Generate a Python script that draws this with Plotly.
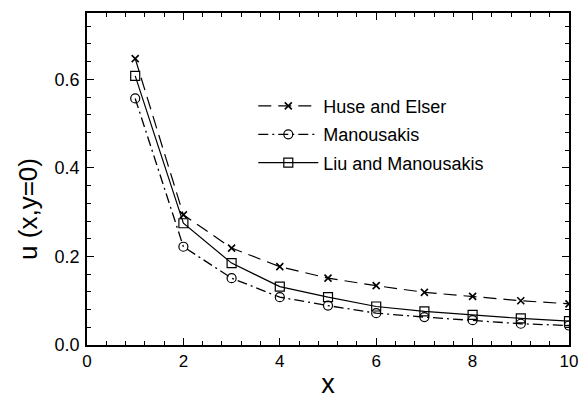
import plotly.graph_objects as go

# Distance along the x axis (y = 0)
x_vals = [1, 2, 3, 4, 5, 6, 7, 8, 9, 10]

# u(x, y=0) from each calculation
huse_elser = [0.647, 0.294, 0.219, 0.177, 0.151, 0.134, 0.119, 0.110, 0.100, 0.093]
manousakis = [0.557, 0.222, 0.151, 0.108, 0.089, 0.072, 0.063, 0.056, 0.048, 0.044]
liu_manousakis = [0.608, 0.275, 0.185, 0.132, 0.108, 0.087, 0.076, 0.068, 0.060, 0.054]

x_ticks = [0, 2, 4, 6, 8, 10]
y_ticks = [0.0, 0.2, 0.4, 0.6]

FONT = "Liberation Sans, Arial, Helvetica, sans-serif"

fig = go.Figure()

fig.add_trace(go.Scatter(
    x=x_vals, y=huse_elser, name="Huse and Elser", legendgroup="a",
    mode="lines+markers",
    line=dict(color="black", width=1.2, dash="13px,7px"),
    marker=dict(symbol="x-thin", size=7, color="black",
                line=dict(color="black", width=1.6)),
))
fig.add_trace(go.Scatter(
    x=x_vals, y=manousakis, name="Manousakis", legendgroup="b",
    mode="lines+markers",
    line=dict(color="black", width=1.3, dash="10px,4px,2px,4px"),
    marker=dict(symbol="circle-open", size=9, color="black",
                line=dict(color="black", width=1.2)),
))
fig.add_trace(go.Scatter(
    x=x_vals, y=liu_manousakis, name="Liu and Manousakis", legendgroup="c",
    mode="lines+markers",
    line=dict(color="black", width=1.2),
    marker=dict(symbol="square-open", size=9, color="black",
                line=dict(color="black", width=1.2)),
))

axis_common = dict(
    showline=True, linecolor="black", linewidth=1.5, mirror="ticks",
    ticks="inside", ticklen=7, tickwidth=1.2, tickcolor="black",
    showgrid=False, zeroline=False, automargin=False,
)

fig.update_xaxes(
    range=[0, 10], tickvals=x_ticks, ticktext=[str(v) for v in x_ticks],
    ticklabeloverflow="allow",
    tickfont=dict(family=FONT, size=17, color="black"),
    minor=dict(ticks="inside", ticklen=4, tickwidth=1, tickcolor="black", dtick=0.4, tick0=0),
    title=dict(text="x", font=dict(family=FONT, size=27, color="black"), standoff=6),
    **axis_common,
)
fig.update_yaxes(
    range=[0, 0.75], tickvals=y_ticks, ticktext=[f"{v:.1f}" for v in y_ticks],
    ticklabelstandoff=2,
    tickfont=dict(family=FONT, size=18, color="black"),
    minor=dict(ticks="inside", ticklen=4, tickwidth=1, tickcolor="black", dtick=0.04, tick0=0),
    **axis_common,
)

# y-axis title, set a little below the middle of the axis
fig.add_annotation(
    text="u (x,y=0)", textangle=-90, showarrow=False,
    xref="paper", yref="paper", x=0, y=0.41, xanchor="center", yanchor="middle",
    xshift=-59, font=dict(family=FONT, size=26, color="black"),
)

fig.update_layout(
    width=579, height=399,
    margin=dict(l=87, r=10, t=13, b=54),
    paper_bgcolor="white", plot_bgcolor="white",
    font=dict(family=FONT, color="black"),
    legend=dict(
        x=0.345, y=0.775, xanchor="left", yanchor="top",
        bgcolor="rgba(0,0,0,0)", borderwidth=0,
        font=dict(family=FONT, size=18, color="black"),
        tracegroupgap=2, itemwidth=60,
    ),
)

fig.write_html("out.html")
